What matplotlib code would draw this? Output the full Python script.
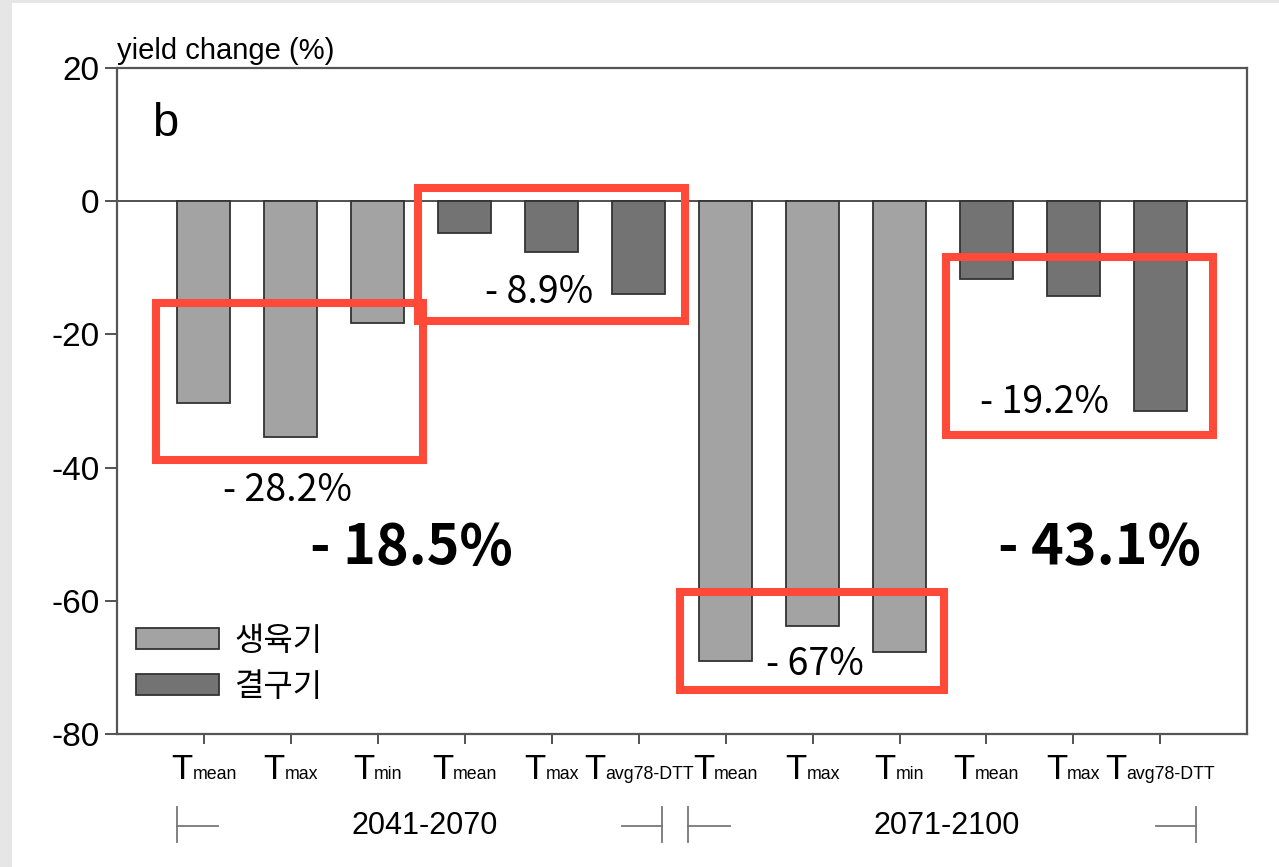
import matplotlib
matplotlib.use("Agg")
import matplotlib.pyplot as plt
from matplotlib.patches import Rectangle, Patch
from matplotlib.offsetbox import TextArea, HPacker, AnnotationBbox
import numpy as np

plt.rcParams['font.family'] = ['Liberation Sans', 'DejaVu Sans']
plt.rcParams['axes.unicode_minus'] = False

# data
sub_labels = ['mean', 'max', 'min', 'mean', 'max', 'avg78-DTT',
              'mean', 'max', 'min', 'mean', 'max', 'avg78-DTT']
values = [-30.3, -35.4, -18.3, -4.8, -7.7, -14.0,
          -69.1, -63.8, -67.7, -11.7, -14.3, -31.5]
stage = [0, 0, 0, 1, 1, 1, 0, 0, 0, 1, 1, 1]   # 0 = 생육기, 1 = 결구기
stage_names = ['생육기', '결구기']
stage_colors = ['#a3a3a3', '#737373']
periods = ['2041-2070', '2071-2100']

# highlighted groups: (x0, x1, y0, y1, label, label x, label y)
boxes = [(-0.55, 2.52, -15.3, -38.9, '- 28.2%', 0.96, -43.5),
         (2.46, 5.53, 1.95, -18.0, '- 8.9%', 3.85, -13.7),
         (5.48, 8.51, -58.7, -73.4, '- 67%', 7.03, -69.5),
         (8.53, 11.60, -8.4, -35.1, '- 19.2%', 9.67, -30.3)]
totals = [('- 18.5%', 2.39, -52.0), ('- 43.1%', 10.3, -52.0)]

kfont = ['Noto Sans CJK KR', 'DejaVu Sans']

fig = plt.figure(figsize=(12.79, 8.67), dpi=100, facecolor='#e6e6e6')
fig.patches.append(Rectangle((12 / 1279, 0), 1, 1 - 3 / 867, transform=fig.transFigure,
                             facecolor='white', edgecolor='none', zorder=-10))
ax = fig.add_axes([0.0915, 0.1534, 0.8837, 0.7682])

x = np.arange(len(values))
colors = [stage_colors[s] for s in stage]
ax.bar(x, values, width=0.61, color=colors, edgecolor='#333333', linewidth=1.3, zorder=3)
ax.axhline(0, color='#222222', linewidth=1.1, zorder=2)

ax.set_xlim(-1, 12)
ax.set_ylim(-80, 20)
ax.set_yticks([20, 0, -20, -40, -60, -80])
ax.set_xticks(x)
ax.set_xticklabels([])
ax.tick_params(axis='y', direction='out', length=8.5, width=1.3, pad=4, labelsize=24,
               color='#444444')
ax.tick_params(axis='x', direction='out', length=7, width=1.3, color='#444444')
for sp in ax.spines.values():
    sp.set_color('#555555')
    sp.set_linewidth(1.6)

# T with subscript tick labels
for xi, s in zip(x, sub_labels):
    pk = HPacker(children=[TextArea('T', textprops=dict(fontsize=25)),
                           TextArea(s, textprops=dict(fontsize=12.8))],
                 align='baseline', pad=0, sep=0)
    ab = AnnotationBbox(pk, (xi, 0), xycoords=('data', 'axes fraction'),
                        xybox=(0, -14), boxcoords='offset points', box_alignment=(0.5, 1),
                        frameon=False, annotation_clip=False)
    ax.add_artist(ab)

ax.text(0.0, 1.005, 'yield change (%)', transform=ax.transAxes, fontsize=21,
        ha='left', va='bottom')
ax.text(0.031, 0.916, 'b', transform=ax.transAxes, fontsize=34, ha='left', va='center')

# legend
handles = [Patch(facecolor=c, edgecolor='#333333', linewidth=1.3) for c in stage_colors]
leg = ax.legend(handles, stage_names, loc='upper left', bbox_to_anchor=(0.011, 0.174),
                frameon=False, handlelength=2.6, handleheight=0.63, handletextpad=0.5,
                labelspacing=0.44, borderpad=0.2, borderaxespad=0,
                prop={'family': kfont, 'size': 23})

# red highlight boxes and their labels
for x0, x1, y0, y1, lab, tx, ty in boxes:
    ax.add_patch(Rectangle((x0, y1), x1 - x0, y0 - y1, fill=False, edgecolor='#ff4a3a',
                           linewidth=5.8, zorder=5, clip_on=False))
    ax.text(tx, ty, lab, fontsize=27, ha='center', va='center', family=kfont, zorder=6)
for lab, tx, ty in totals:
    ax.text(tx, ty, lab, fontsize=40, fontweight='bold', ha='center', va='center',
            family=kfont, zorder=6)

# period labels with brackets
for i, p in enumerate(periods):
    ax.text(2.54 + 6 * i, -93.8, p, fontsize=22, ha='center', va='center', clip_on=False)
brackets = [(-0.305, 0.156, 'l'), (4.81, 5.27, 'r'), (5.57, 6.05, 'l'), (10.95, 11.41, 'r')]
for a, b, side in brackets:
    ax.plot([a, b], [-93.8, -93.8], color='#777777', lw=1.3, clip_on=False)
    vx = a if side == 'l' else b
    ax.plot([vx, vx], [-90.9, -96.2], color='#777777', lw=1.3, clip_on=False)

fig.savefig('out.png', dpi=100, facecolor=fig.get_facecolor())
